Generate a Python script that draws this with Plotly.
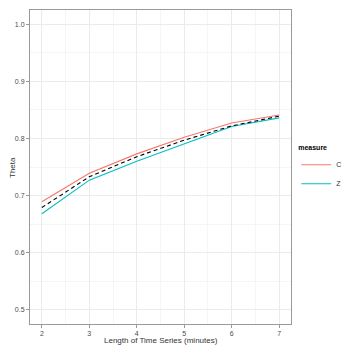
import plotly.graph_objects as go

# series lengths (minutes)
minutes = [2, 3, 4, 5, 6, 7]

# theta per measure
theta_c = [0.689, 0.739, 0.773, 0.802, 0.827, 0.841]
theta_z = [0.668, 0.727, 0.760, 0.791, 0.821, 0.836]
# mean line (dashed)
theta_mean = [0.679, 0.733, 0.768, 0.797, 0.822, 0.839]

fig = go.Figure()

fig.add_trace(go.Scatter(x=minutes, y=theta_c, mode="lines", name="C",
                         line=dict(color="#F8766D", width=1.1)))
fig.add_trace(go.Scatter(x=minutes, y=theta_z, mode="lines", name="Z",
                         line=dict(color="#00BFC4", width=1.1)))
fig.add_trace(go.Scatter(x=minutes, y=theta_mean, mode="lines", showlegend=False,
                         line=dict(color="black", width=1.1, dash="4px,3px")))

axis_common = dict(
    showline=True, linecolor="#999999", linewidth=1, mirror=True,
    ticks="outside", ticklen=3, tickcolor="#999999",
    tickfont=dict(size=7, color="#4d4d4d"),
    showgrid=True, gridcolor="#ebebeb", gridwidth=0.8,
    zeroline=False, automargin=False,
)

fig.update_xaxes(range=[1.75, 7.25], dtick=1,
                 minor=dict(dtick=0.5, showgrid=True, gridcolor="#f5f5f5", gridwidth=0.5),
                 **axis_common)
fig.update_yaxes(range=[0.475, 1.025], dtick=0.1, tickformat=".1f",
                 minor=dict(dtick=0.05, showgrid=True, gridcolor="#f5f5f5", gridwidth=0.5),
                 **axis_common)

# axis titles as annotations so they sit where ggplot put them
fig.add_annotation(text="Length of Time Series (minutes)", xref="paper", yref="paper",
                   x=0.5, y=-0.052, xanchor="center", yanchor="middle", showarrow=False,
                   font=dict(size=8, color="#333333"))
fig.add_annotation(text="Theta", xref="paper", yref="paper", textangle=-90,
                   x=-0.069, y=0.5, xanchor="center", yanchor="middle", showarrow=False,
                   font=dict(size=8, color="#333333"))

# page body has an 8px margin, so the figure is 342 wide/high
fig.update_layout(
    width=342, height=342,
    margin=dict(l=22, r=59, t=2, b=26),
    paper_bgcolor="white", plot_bgcolor="white",
    font=dict(family="Liberation Sans, Arial, sans-serif"),
    legend=dict(title=dict(text="<b>measure</b>", font=dict(size=7, color="#000000")),
                x=1.02, xanchor="left", y=0.49, yanchor="middle",
                font=dict(size=7, color="#333333"),
                itemwidth=30, tracegroupgap=0, bgcolor="rgba(0,0,0,0)"),
)

fig.write_html("out.html")
